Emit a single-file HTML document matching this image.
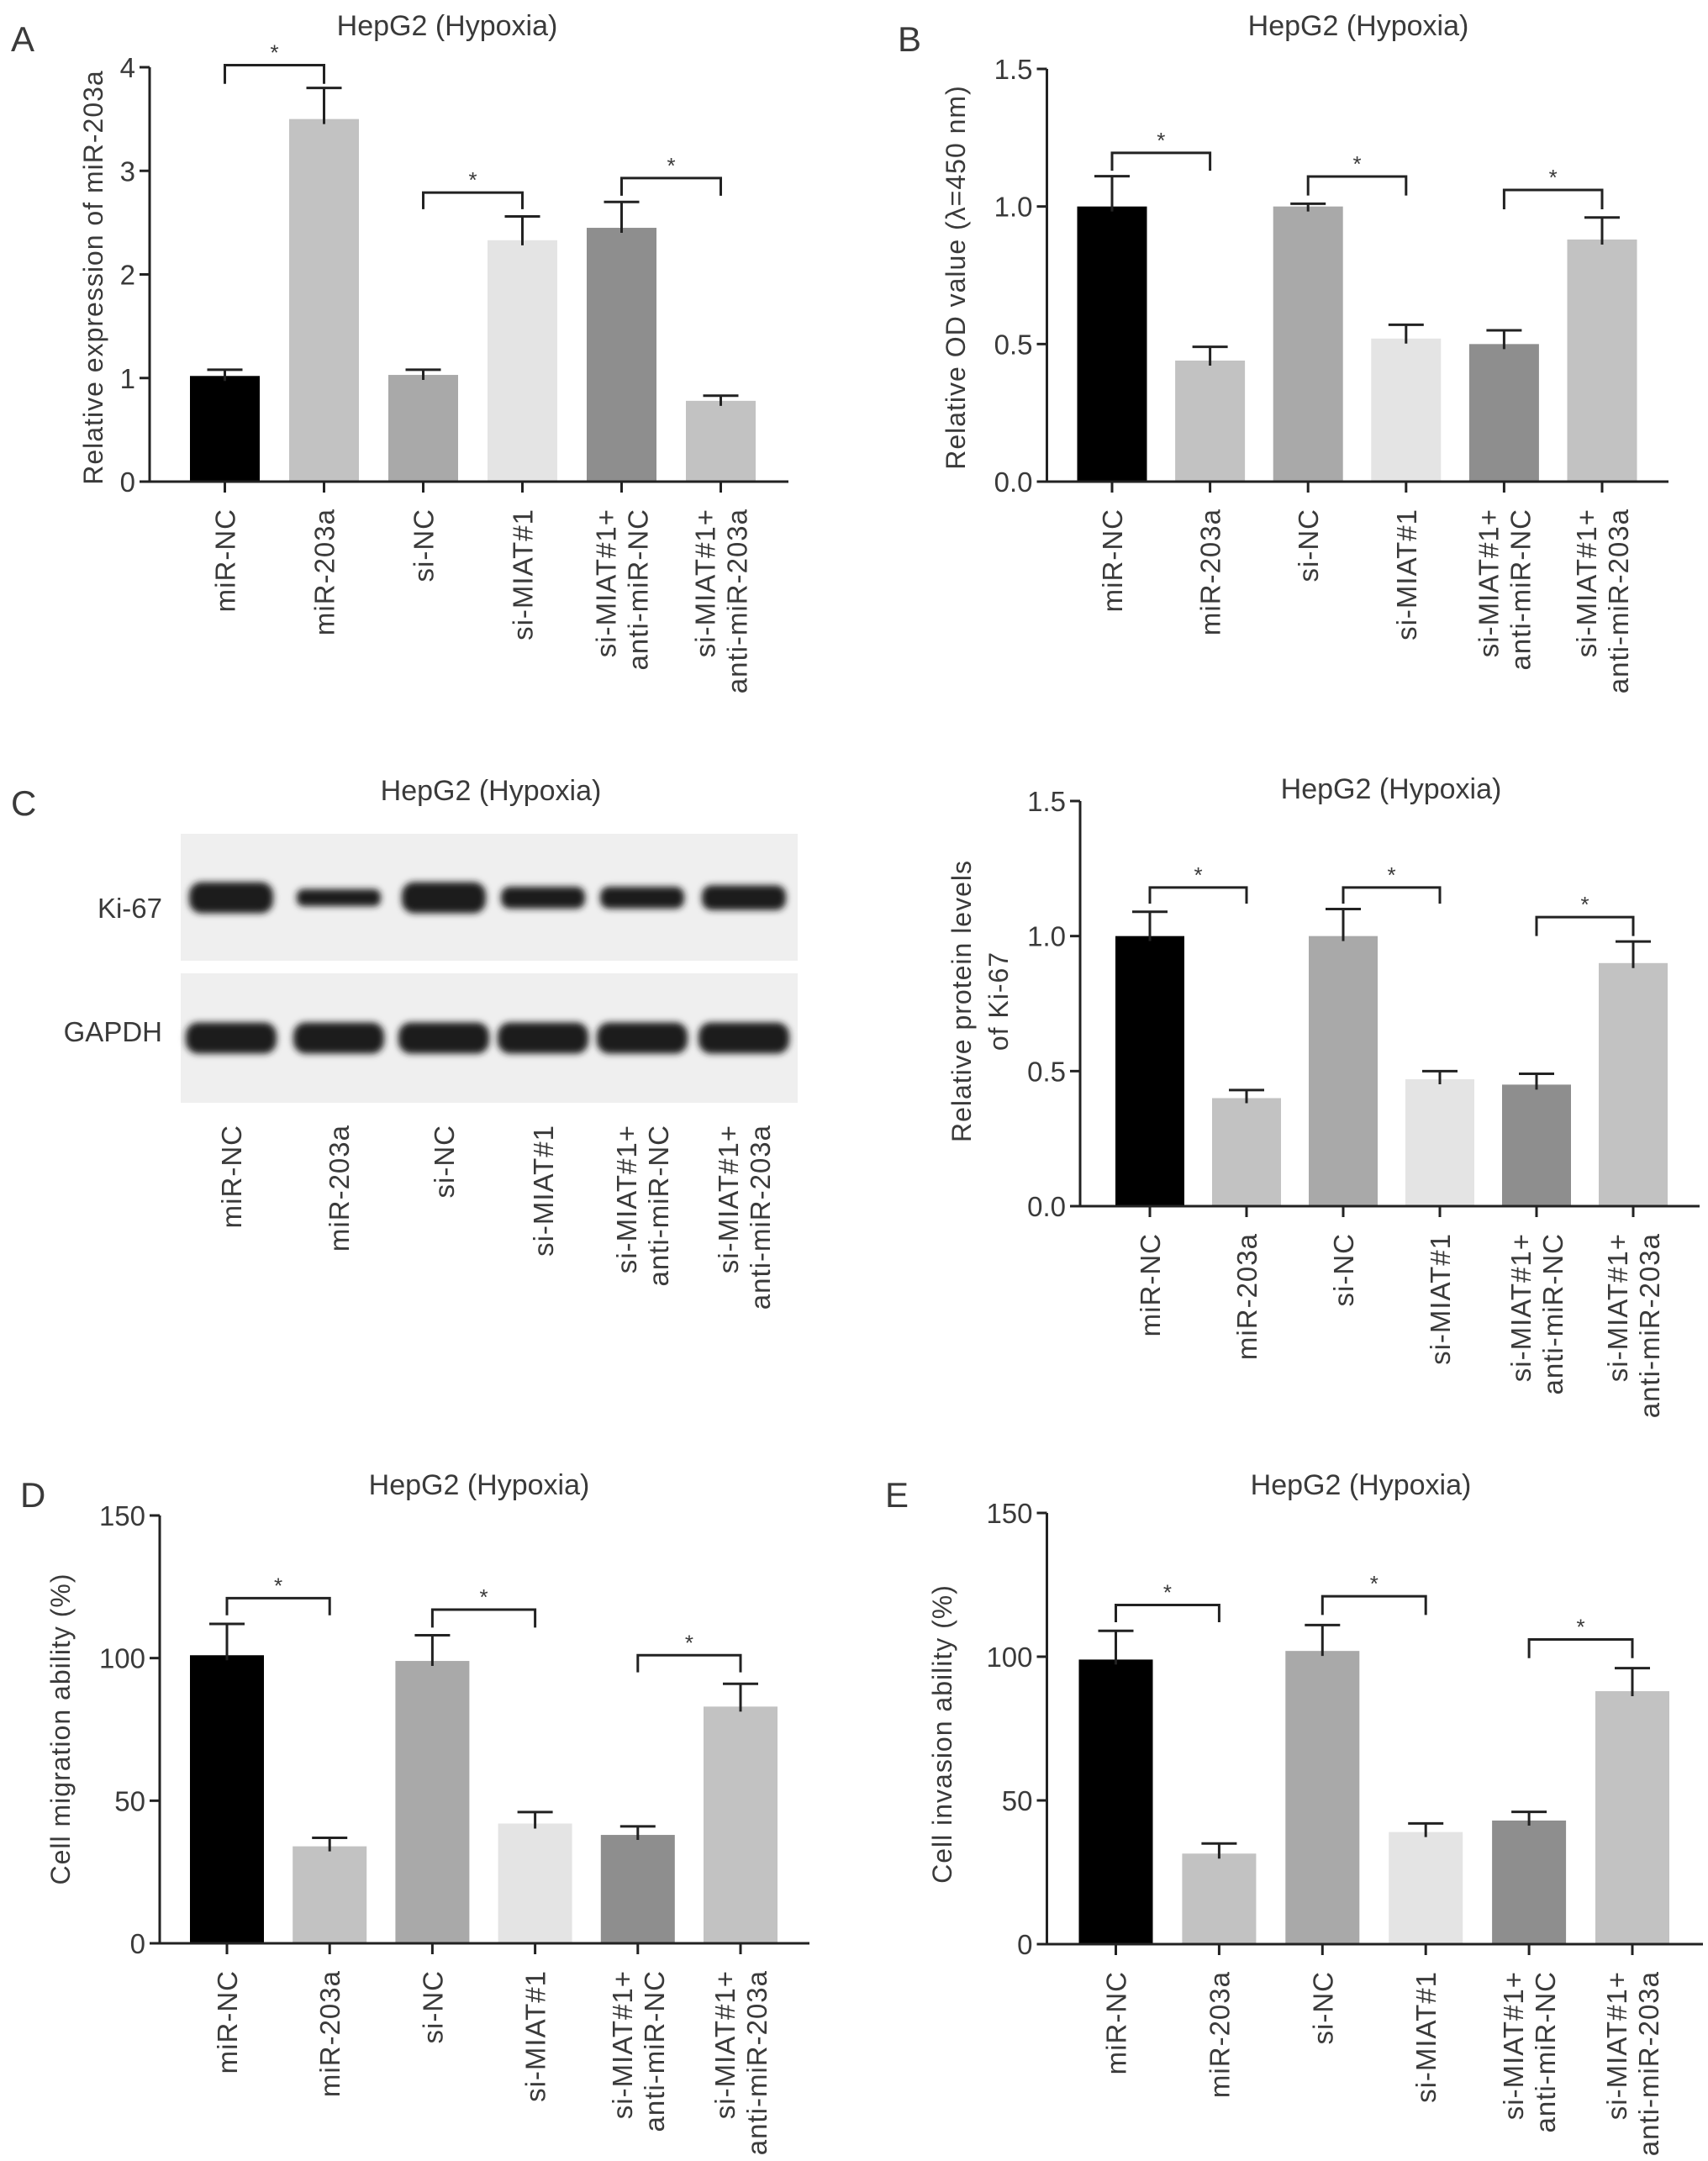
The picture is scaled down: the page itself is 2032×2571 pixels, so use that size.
<!DOCTYPE html>
<html><head><meta charset="utf-8"><style>
html,body{margin:0;padding:0;background:#fff;}
svg{display:block;}
text{font-family:"Liberation Sans",Arial,sans-serif;fill:#3a3a3a;}
</style></head>
<body>
<svg id="fig" width="2032" height="2571" viewBox="0 0 2032 2571" xmlns="http://www.w3.org/2000/svg">
<defs>
<filter id="blur" x="-20%" y="-50%" width="140%" height="200%"><feGaussianBlur stdDeviation="4"/></filter>
</defs>
</svg>
<script>
// ---- data ----
const categories = [["miR-NC"],["miR-203a"],["si-NC"],["si-MIAT#1"],["si-MIAT#1+","anti-miR-NC"],["si-MIAT#1+","anti-miR-203a"]];
const barColors = ["#000000","#c2c2c2","#a9a9a9","#e4e4e4","#8e8e8e","#c2c2c2"];
const valuesA = [1.02, 3.5, 1.03, 2.33, 2.45, 0.78];
const errorsA = [1.08, 3.8, 1.08, 2.56, 2.7, 0.83];
const ticksA = ["0","1","2","3","4"];
const tickValsA = [0,1,2,3,4];
const bracketsA = [[0,1,4.02,3.84],[2,3,2.79,2.63],[4,5,2.93,2.76]];
const valuesB = [1.0, 0.44, 1.0, 0.52, 0.50, 0.88];
const errorsB = [1.11, 0.49, 1.01, 0.57, 0.55, 0.96];
const ticksB = ["0.0","0.5","1.0","1.5"];
const tickValsB = [0,0.5,1,1.5];
const bracketsB = [[0,1,1.195,1.13],[2,3,1.109,1.04],[4,5,1.06,0.99]];
const valuesC = [1.0, 0.40, 1.0, 0.47, 0.45, 0.90];
const errorsC = [1.09, 0.43, 1.10, 0.50, 0.49, 0.98];
const bracketsC = [[0,1,1.18,1.12],[2,3,1.18,1.12],[4,5,1.07,1.0]];
const valuesD = [101, 34, 99, 42, 38, 83];
const errorsD = [112, 37, 108, 46, 41, 91];
const ticksD = ["0","50","100","150"];
const tickValsD = [0,50,100,150];
const bracketsD = [[0,1,121,115],[2,3,117,110.7],[4,5,101,95]];
const valuesE = [99, 31.5, 102, 39, 43, 88];
const errorsE = [109, 35, 111, 42, 46, 96];
const bracketsE = [[0,1,118,112],[2,3,121,114.5],[4,5,106,99.5]];
const ki67Intensity = [1.0, 0.55, 1.0, 0.7, 0.7, 0.8];
const gapdhIntensity = [1,1,1,1,1,1];

const NS="http://www.w3.org/2000/svg";
const svg=document.getElementById('fig');
function mk(tag,attrs,parent){const e=document.createElementNS(NS,tag);for(const k in attrs)e.setAttribute(k,attrs[k]);(parent||svg).appendChild(e);return e;}
function txt(s,attrs,parent){const e=mk('text',attrs,parent);e.textContent=s;return e;}

function catLabels(g,centers,topY){
  categories.forEach((lines,i)=>{
    const n=lines.length;
    lines.forEach((s,k)=>{
      const x=centers[i]+(k-(n-1)/2)*38+12;
      const t=txt(s,{x:x,y:topY,'font-size':33,'letter-spacing':1,'text-anchor':'end',transform:`rotate(-90 ${x} ${topY})`},g);
      
      
    });
  });
}

function chart(name,L,values,errors,tickLabels,tickVals,brackets,ytitle){
  const g=mk('g',{});
  
  
  const ys=v=>L.y0-(v/L.max)*(L.y0-L.yTop);
  const xs=i=>L.ax+L.c0+i*L.step;
  values.forEach((v,i)=>{
    const r=mk('rect',{x:xs(i)-L.bw/2,y:ys(v),width:L.bw,height:L.y0-ys(v),fill:barColors[i]},g);
    
    
    const e=mk('path',{d:`M${xs(i)} ${ys(v)+6}V${ys(errors[i])}M${xs(i)-21} ${ys(errors[i])}H${xs(i)+21}`,stroke:'#222','stroke-width':3,fill:'none'},g);
    
    
  });
  const ya=mk('path',{d:`M${L.ax} ${L.yTop}V${L.y0}`,stroke:'#222','stroke-width':3},g);
  
  
  const xa=mk('path',{d:`M${L.ax-12} ${L.y0}H${L.xEnd}`,stroke:'#222','stroke-width':3},g);
  
  
  tickVals.forEach((v,k)=>{
    mk('path',{d:`M${L.ax-12} ${ys(v)}H${L.ax}`,stroke:'#222','stroke-width':3},g);
    const t=txt(tickLabels[k],{x:L.ax-17,y:ys(v)+12,'font-size':33,'text-anchor':'end'},g);
    
    
  });
  values.forEach((v,i)=>mk('path',{d:`M${xs(i)} ${L.y0}V${L.y0+13}`,stroke:'#222','stroke-width':3},g));
  brackets.forEach(b=>{
    const x1=xs(b[0]),x2=xs(b[1]),yt=ys(b[2]),yl=ys(b[3]);
    const p=mk('path',{d:`M${x1} ${yl}V${yt}H${x2}V${yl}`,stroke:'#222','stroke-width':3,fill:'none'},g);
    
    
    const s=txt('*',{x:(x1+x2)/2,y:yt-6,'font-size':26,'text-anchor':'middle'},g);
    
    
  });
  catLabels(g,values.map((v,i)=>xs(i)),L.y0+32);
  ytitle.lines.forEach((s,k)=>{
    const x=ytitle.x[k];
    const t=txt(s,{x:x,y:ytitle.y,'font-size':32,'letter-spacing':1,'text-anchor':'middle',transform:`rotate(-90 ${x} ${ytitle.y})`},g);
    
    
  });
  return g;
}

function title(x,y){const t=txt('HepG2 (Hypoxia)',{x:x,y:y+12,'font-size':34,'text-anchor':'middle'});
  
  }
function letter(s,x,y){const t=txt(s,{x:x,y:y+15,'font-size':42});
  
  }

// Panel A
letter('A',13,46); title(532,30);
chart('chart-a',{ax:178,y0:573,yTop:80,max:4,c0:89.5,step:118,bw:83,xEnd:938},valuesA,errorsA,ticksA,tickValsA,bracketsA,{lines:['Relative expression of miR-203a'],x:[122],y:330});
// Panel B
letter('B',1068,46); title(1616,30);
chart('chart-b',{ax:1245.5,y0:573,yTop:82,max:1.5,c0:77.5,step:116.6,bw:83,xEnd:1985},valuesB,errorsB,ticksB,tickValsB,bracketsB,{lines:['Relative OD value (\u03bb=450 nm)'],x:[1148],y:330});
// Panel C western blot
letter('C',13,955); title(584,940);
(function(){
  const g=mk('g',{});
  
  
  const p1=mk('rect',{x:215,y:992,width:734,height:151,fill:'#efefef'},g);
  
  
  const p2=mk('rect',{x:215,y:1158,width:734,height:154,fill:'#efefef'},g);
  
  
  const lanes=[275,403,528,646,764,885];
  lanes.forEach((x,i)=>{
    const h=37*ki67Intensity[i];
    const b=mk('rect',{x:x-50,y:1068-h/2,width:100,height:h,rx:h/2.5,fill:'#1e1e1e',filter:'url(#blur)'},g);
    
    
    const h2=37*gapdhIntensity[i];
    const b2=mk('rect',{x:x-54,y:1235-h2/2,width:108,height:h2,rx:h2/2.5,fill:'#1e1e1e',filter:'url(#blur)'},g);
    
    
  });
  const k=txt('Ki-67',{x:193,y:1092,'font-size':33,'text-anchor':'end'},g);
  
  
  const gp=txt('GAPDH',{x:193,y:1239,'font-size':33,'text-anchor':'end'},g);
  
  
  catLabels(g,lanes,1338);
})();
// Panel C chart
title(1655,938);
chart('chart-c',{ax:1285,y0:1435,yTop:953,max:1.5,c0:83,step:115,bw:82,xEnd:2022},valuesC,errorsC,ticksB,tickValsB,bracketsC,{lines:['Relative protein levels','of Ki-67'],x:[1155,1199],y:1191});
// Panel D
letter('D',24,1778); title(570,1766);
chart('chart-d',{ax:190,y0:2312,yTop:1803,max:150,c0:80,step:122.2,bw:88,xEnd:963},valuesD,errorsD,ticksD,tickValsD,bracketsD,{lines:['Cell migration ability (%)'],x:[83],y:2057});
// Panel E
letter('E',1053,1778); title(1619,1766);
chart('chart-e',{ax:1245.5,y0:2313,yTop:1800,max:150,c0:82,step:122.9,bw:88,xEnd:2026},valuesE,errorsE,ticksD,tickValsD,bracketsE,{lines:['Cell invasion ability (%)'],x:[1132],y:2063});
</script>
</body></html>
